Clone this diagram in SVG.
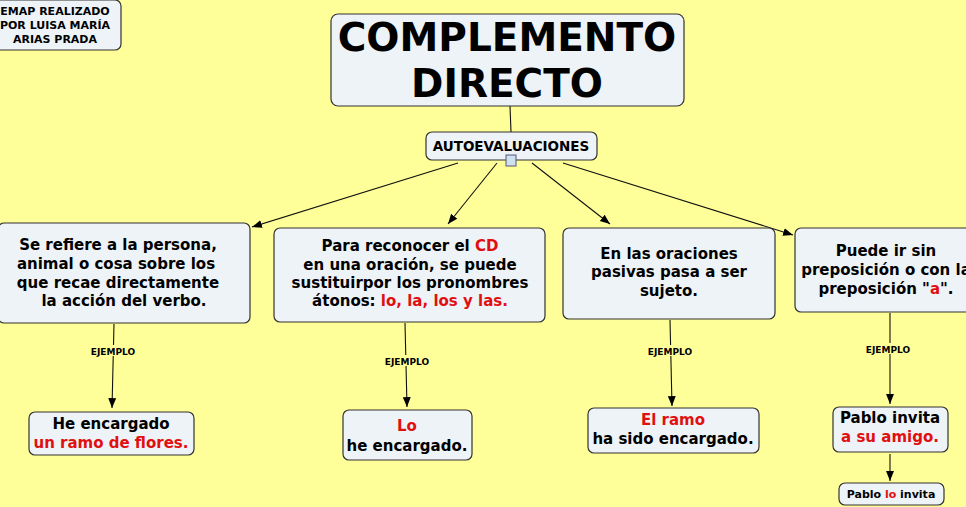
<svg xmlns="http://www.w3.org/2000/svg" width="966" height="507" viewBox="0 0 966 507">
<style>
.n{fill:#EEF3F7;stroke:#333;stroke-width:1.2}
text{font-family:"DejaVu Sans",Verdana,sans-serif;font-weight:bold;fill:#000;text-anchor:middle}
.t{font-size:15px}
.r{fill:#E01010}
.c{stroke:#111;stroke-width:1.1;fill:none}
.lab{font-size:9px}
</style>
<defs><marker id="a" viewBox="0 0 10 10" refX="10" refY="5" markerWidth="9" markerHeight="9" orient="auto"><path d="M0,1 L10,5 L0,9 z" fill="#000"/></marker></defs>
<rect width="966" height="507" fill="#FFFF99"/>
<g id="connectors">
<path class="c" d="M510,106 L511,132"/>
<path class="c" d="M458,163 L252,227" marker-end="url(#a)"/>
<path class="c" d="M497,163 L448,224" marker-end="url(#a)"/>
<path class="c" d="M532,163 L610,224" marker-end="url(#a)"/>
<path class="c" d="M563,163 L793,235" marker-end="url(#a)"/>
<path class="c" d="M114,324 L112,408" marker-end="url(#a)"/>
<path class="c" d="M405,323 L407,407" marker-end="url(#a)"/>
<path class="c" d="M670,320 L672,406" marker-end="url(#a)"/>
<path class="c" d="M890,313 L890,404" marker-end="url(#a)"/>
<path class="c" d="M890,454 L890,481" marker-end="url(#a)"/>
<rect x="90" y="345" width="46" height="11" fill="#FFFF99"/><text class="lab" x="113" y="355">EJEMPLO</text>
<rect x="384" y="355" width="46" height="11" fill="#FFFF99"/><text class="lab" x="407" y="365">EJEMPLO</text>
<rect x="647" y="345" width="46" height="11" fill="#FFFF99"/><text class="lab" x="670" y="355">EJEMPLO</text>
<rect x="865" y="343" width="46" height="11" fill="#FFFF99"/><text class="lab" x="888" y="353">EJEMPLO</text>
</g>
<g id="author"><rect class="n" x="-10" y="0" width="131" height="50" rx="6"/>
<text font-size="11" x="55" y="15">EMAP REALIZADO</text><text font-size="11" x="55" y="29">POR LUISA MARÍA</text><text font-size="11" x="55" y="43">ARIAS PRADA</text></g>
<g id="title"><rect class="n" x="331" y="14" width="353" height="92" rx="7"/>
<text font-size="39" x="507" y="51">COMPLEMENTO</text><text font-size="39" x="507" y="97">DIRECTO</text></g>
<g id="autoeval"><rect class="n" x="426" y="132" width="171" height="28" rx="6"/>
<text font-size="13.5" x="511" y="151">AUTOEVALUACIONES</text>
<rect x="506" y="155" width="10" height="11" fill="#cfe0f0" stroke="#557" stroke-width="1"/></g>
<g id="n1"><rect class="n" x="-2" y="223" width="252" height="100" rx="6"/>
<text class="t" x="118" y="250">Se refiere a la persona,</text><text class="t" x="116" y="269">animal  o cosa sobre los</text><text class="t" x="118" y="288">que recae directamente</text><text class="t" x="124" y="306">la acción del verbo.</text></g>
<g id="n2"><rect class="n" x="274" y="228" width="271" height="94" rx="6"/>
<text class="t" x="410" y="251">Para reconocer el <tspan class="r">CD</tspan></text><text class="t" x="410" y="270">en una oración, se puede</text><text class="t" x="410" y="288">sustituirpor los pronombres</text><text class="t" x="410" y="306">átonos: <tspan class="r">lo, la, los y las.</tspan></text></g>
<g id="n3"><rect class="n" x="563" y="228" width="212" height="91" rx="6"/>
<text class="t" x="669" y="259">En las oraciones</text><text class="t" x="669" y="277">pasivas pasa a ser</text><text class="t" x="669" y="296">sujeto.</text></g>
<g id="n4"><rect class="n" x="795" y="228" width="180" height="84" rx="6"/>
<text class="t" x="886" y="256">Puede ir sin</text><text class="t" x="886" y="275">preposición o con la</text><text class="t" x="886" y="294">preposición "<tspan class="r">a</tspan>".</text></g>
<g id="e1"><rect class="n" x="29" y="412" width="165" height="43" rx="6"/>
<text class="t" x="111" y="429">He encargado</text><text class="t r" x="111" y="448">un ramo de flores.</text></g>
<g id="e2"><rect class="n" x="343" y="410" width="129" height="50" rx="6"/>
<text class="t r" x="407" y="431">Lo</text><text class="t" x="407" y="451">he encargado.</text></g>
<g id="e3"><rect class="n" x="588" y="408" width="171" height="45" rx="6"/>
<text class="t r" x="673" y="425">El ramo</text><text class="t" x="673" y="444">ha sido encargado.</text></g>
<g id="e4"><rect class="n" x="833" y="407" width="115" height="45" rx="6"/>
<text class="t" x="890" y="423">Pablo invita</text><text class="t r" x="890" y="442">a su amigo.</text></g>
<g id="e5"><rect class="n" x="839" y="483" width="105" height="22" rx="6"/>
<text font-size="11" x="891" y="498">Pablo <tspan class="r">lo</tspan> invita</text></g>
</svg>
